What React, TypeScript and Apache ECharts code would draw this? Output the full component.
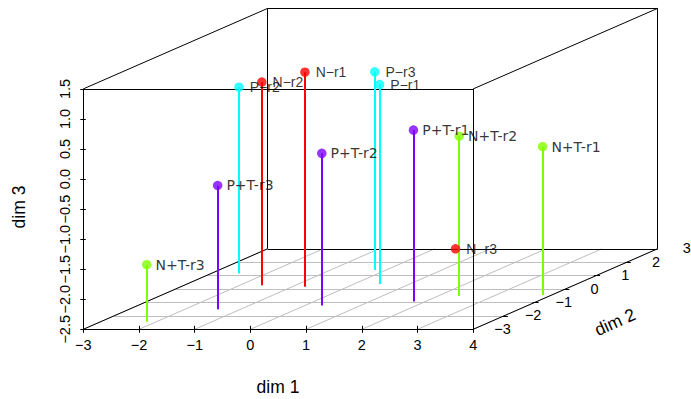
import React, { useEffect, useRef } from "react";
import * as echarts from "echarts";

// ---- data ----
const pointNames = ["N−r1", "N−r2", "N−r3", "N+T-r1", "N+T-r2", "N+T-r3", "P−r1", "P−r2", "P−r3", "P+T-r1", "P+T-r2", "P+T-r3"];
const pointGroups = ["N", "N", "N", "N+T", "N+T", "N+T", "P", "P", "P", "P+T", "P+T", "P+T"];
const dim1 = [-0.77, -1.61, 0.4, 3.84, 2.38, -2.17, 0.46, -2.5, -0.2, 1.78, 0.3, -1.41];
const dim2 = [-0.83, -0.71, 1.95, -1.45, -1.52, -3.44, -0.63, 0.16, 0.41, -1.92, -2.22, -2.51];
const dim3 = [1.07, 0.88, -2.49, -0.03, 0.16, -1.55, 0.82, 0.6, 0.8, 0.35, 0.03, -0.44];
const groupColors: Record<string, string> = { N: "#FF0000", "N+T": "#80FF00", P: "#00FFFF", "P+T": "#8000FF" };

const xTicks = [-3, -2, -1, 0, 1, 2, 3, 4];
const xTickLabels = ["−3", "−2", "−1", "0", "1", "2", "3", "4"];
const yTicks = [-3, -2, -1, 0, 1, 2, 3];
const yTickLabels = ["−3", "−2", "−1", "0", "1", "2", "3"];
const zTicks = [-2.5, -2, -1.5, -1, -0.5, 0, 0.5, 1, 1.5];
const zTickLabels = ["−2.5", "−2.0", "−1.5", "−1.0", "−0.5", "0.0", "0.5", "1.0", "1.5"];
const xRange = [-3, 4];
const yRange = [-4, 2];
const zRange = [-2.5, 1.5];

// ---- layout constants (projection of the 3D box) ----
const X0PX = 83.3;
const XPU = 55.7;
const Z0PX = 329.3;
const ZPU = 60.1;
const DEPTH_X = 30.73 / XPU;
const DEPTH_Z = 13.42 / ZPU;
const W = 691;
const H = 399;

const proj = (x: number, y: number, z: number): number[] => {
  const d = y - yRange[0];
  return [x + d * DEPTH_X, z + d * DEPTH_Z];
};

const seg = (a: number[], b: number[]) => ({ coords: [proj(a[0], a[1], a[2]), proj(b[0], b[1], b[2])] });

export default function App() {
  const ref = useRef<HTMLDivElement>(null);
  useEffect(() => {
    if (!ref.current) return;
    const chart = echarts.init(ref.current, undefined, { renderer: "svg" });

    const [x0, x1] = xRange;
    const [y0, y1] = yRange;
    const [z0, z1] = zRange;

    // floor grid
    const gridSegs: any[] = [];
    xTicks.forEach((t) => gridSegs.push(seg([t, y0, z0], [t, y1, z0])));
    for (let k = y0 + 1; k < y1; k++) gridSegs.push(seg([x0, k, z0], [x1, k, z0]));

    // box
    const boxSegs: any[] = [];
    [y0, y1].forEach((yy) => {
      boxSegs.push(seg([x0, yy, z0], [x1, yy, z0]));
      boxSegs.push(seg([x0, yy, z1], [x1, yy, z1]));
      boxSegs.push(seg([x0, yy, z0], [x0, yy, z1]));
      boxSegs.push(seg([x1, yy, z0], [x1, yy, z1]));
    });
    [x0, x1].forEach((xx) => {
      [z0, z1].forEach((zz) => boxSegs.push(seg([xx, y0, zz], [xx, y1, zz])));
    });

    // tick marks
    const tickSegs: any[] = [];
    const xTickLen = 3.5 / ZPU;
    xTicks.forEach((t) => {
      const p = proj(t, y0, z0);
      tickSegs.push({ coords: [[p[0], p[1] + xTickLen], [p[0], p[1] - xTickLen]] });
    });
    zTicks.forEach((t) => {
      const p = proj(x0, y0, t);
      tickSegs.push({ coords: [[p[0] - 3 / XPU, p[1]], [p[0] + 2.5 / XPU, p[1]]] });
    });
    yTicks.forEach((t) => {
      if (t <= y0 || t >= y1) return;
      const p = proj(x1, t, z0);
      tickSegs.push({ coords: [[p[0] - 2 / XPU, p[1]], [p[0] + 4 / XPU, p[1]]] });
    });

    // stems
    const stemSegs = pointNames.map((n, i) => ({
      coords: [proj(dim1[i], dim2[i], dim3[i]), proj(dim1[i], dim2[i], z0)],
      lineStyle: { color: groupColors[pointGroups[i]], width: 2, opacity: 1 },
    }));

    const pointData = pointNames.map((n, i) => {
      const plus = n.indexOf("+") >= 0;
      return {
        name: n,
        value: proj(dim1[i], dim2[i], dim3[i]),
        itemStyle: { color: groupColors[pointGroups[i]] },
        label: {
          fontFamily: plus ? "DejaVu Sans" : "Liberation Sans",
          fontSize: plus ? 14 : 14,
          distance: plus ? 4 : 6,
        },
      };
    });

    const tickFont = '14.5px "Liberation Sans", Arial, sans-serif';
    const titleFont = '17.5px "Liberation Sans", Arial, sans-serif';

    const labelSeries = (data: number[][], texts: string[], dx: number, dy: number, rot: number) => ({
      type: "custom",
      coordinateSystem: "cartesian2d",
      silent: true,
      z: 5,
      data,
      renderItem: (params: any, api: any) => {
        const c = api.coord([api.value(0), api.value(1)]);
        return {
          type: "text",
          x: c[0] + dx,
          y: c[1] + dy,
          rotation: rot,
          style: {
            text: texts[params.dataIndex],
            font: tickFont,
            fill: "#000",
            align: "center",
            verticalAlign: "middle",
          },
        };
      },
    });

    const lineStyleBase = { opacity: 1 };

    chart.setOption({
      animation: false,
      backgroundColor: "#ffffff",
      grid: { left: 0, right: 0, top: 0, bottom: 0 },
      xAxis: {
        type: "value",
        min: -3 - X0PX / XPU,
        max: -3 + (W - X0PX) / XPU,
        show: false,
      },
      yAxis: {
        type: "value",
        min: -2.5 - (H - Z0PX) / ZPU,
        max: -2.5 + Z0PX / ZPU,
        show: false,
      },
      graphic: [
        {
          type: "text",
          x: 278,
          y: 387,
          style: { text: "dim 1", font: titleFont, fill: "#000", align: "center", verticalAlign: "middle", textAlign: "center", textVerticalAlign: "middle" },
        },
        {
          type: "text",
          x: 18.5,
          y: 207,
          rotation: Math.PI / 2,
          style: { text: "dim 3", font: titleFont, fill: "#000", align: "center", verticalAlign: "middle", textAlign: "center", textVerticalAlign: "middle" },
        },
        {
          type: "text",
          x: 615,
          y: 322,
          rotation: (24 * Math.PI) / 180,
          style: { text: "dim 2", font: titleFont, fill: "#000", align: "center", verticalAlign: "middle", textAlign: "center", textVerticalAlign: "middle" },
        },
      ],
      series: [
        {
          type: "lines",
          coordinateSystem: "cartesian2d",
          silent: true,
          z: 1,
          lineStyle: { ...lineStyleBase, color: "#BEBEBE", width: 1 },
          data: gridSegs,
        },
        {
          type: "lines",
          coordinateSystem: "cartesian2d",
          silent: true,
          z: 2,
          lineStyle: { ...lineStyleBase, color: "#000000", width: 1 },
          data: boxSegs.concat(tickSegs),
        },
        {
          type: "lines",
          coordinateSystem: "cartesian2d",
          silent: true,
          z: 3,
          lineStyle: { ...lineStyleBase, width: 2 },
          data: stemSegs,
        },
        {
          type: "scatter",
          silent: true,
          z: 4,
          symbol: "circle",
          symbolSize: 9.5,
          label: { show: true, position: "right", distance: 5, formatter: "{b}", color: "#000" },
          data: pointData,
        },
        labelSeries(xTicks.map((t) => proj(t, y0, z0)), xTickLabels, 0, 16, 0),
        labelSeries(zTicks.map((t) => proj(x0, y0, t)), zTickLabels, -18.5, 0, Math.PI / 2),
        labelSeries(yTicks.map((t) => proj(x1, t, z0)), yTickLabels, -1.5, 13, 0),
      ],
    });
    return () => chart.dispose();
  }, []);
  return <div ref={ref} style={{ position: "absolute", left: 0, top: 0, width: W, height: H, background: "#fff" }} />;
}
